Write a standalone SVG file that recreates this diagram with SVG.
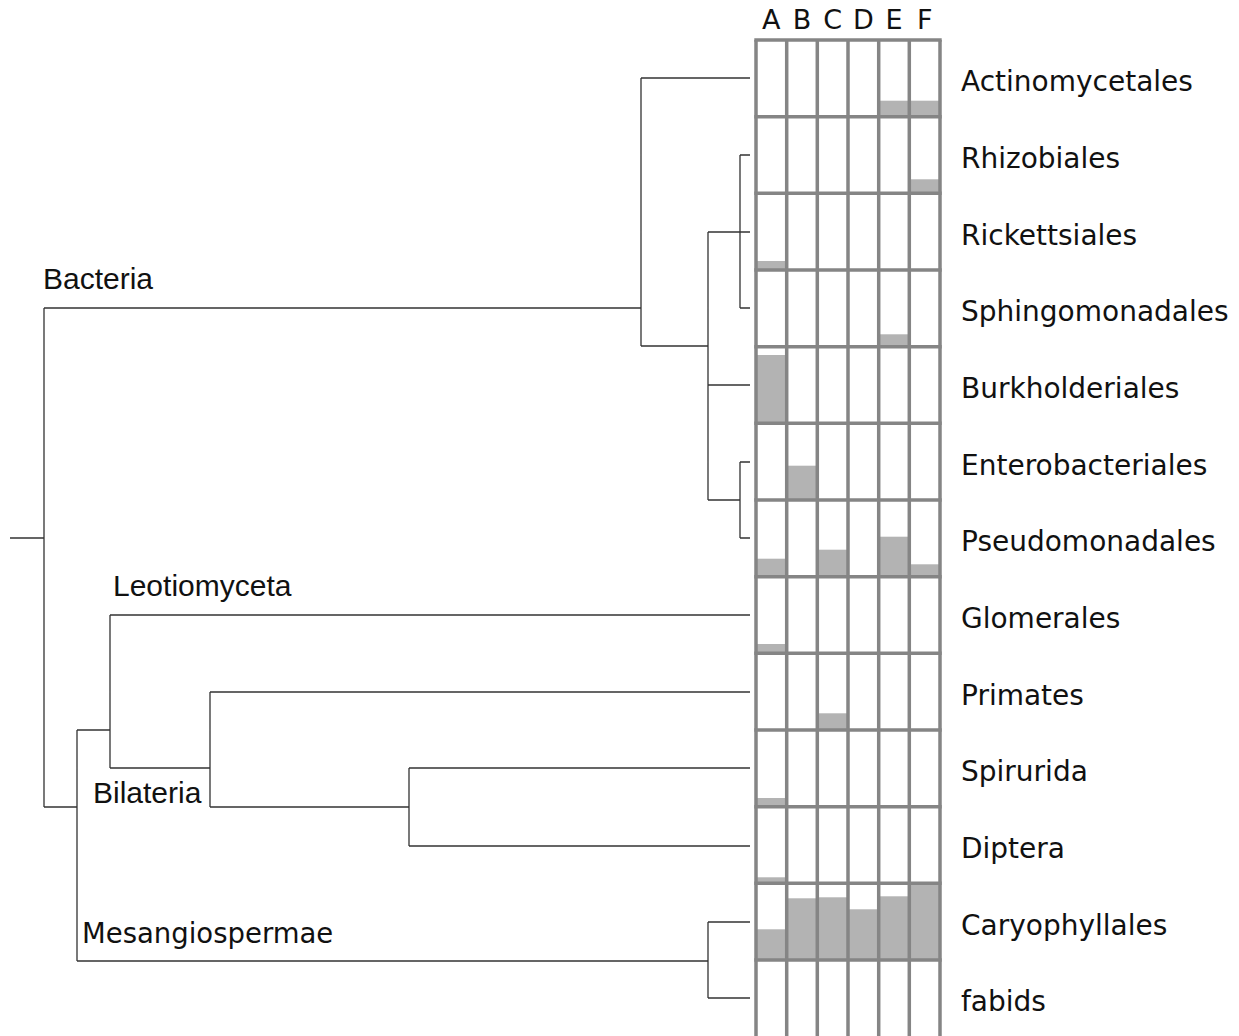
<svg xmlns="http://www.w3.org/2000/svg" width="1239" height="1036" viewBox="0 0 1239 1036">
<style>
.t{fill:none;stroke:#333;stroke-width:1.3}
.g{stroke:#858585;stroke-width:3.5;fill:none}
.b{fill:#b3b3b3}
.lab{font-family:"DejaVu Sans",sans-serif;font-size:28px;fill:#111}
.col{font-family:"DejaVu Sans",sans-serif;font-size:27px;fill:#111;text-anchor:middle}
.cl{font-family:"Liberation Sans",Arial,sans-serif;font-size:30px;fill:#111}
</style>
<rect width="1239" height="1036" fill="#fff"/>
<g id="connectors">
<path class="t" d="M10,538H44M44,308V807M44,308H641M641,78V346M641,78H750M641,346H708M708,232V500M708,232H750M740,155V308M740,155H750M740,308H750M708,385H750M708,500H740M740,462V538M740,462H750M740,538H750"/>
<path class="t" d="M44,807H77M77,730V961M77,730H110M110,615V768M110,615H750M110,768H210M210,692V807M210,692H750M210,807H409M409,768V846M409,768H750M409,846H750M77,961H708M708,922V998M708,922H750M708,998H750"/>
</g>
<g id="bars">
<rect class="b" x="878.7" y="100.7" width="61.3" height="16"/>
<rect class="b" x="909.3" y="179.3" width="30.7" height="14"/>
<rect class="b" x="756" y="261" width="30.7" height="9"/>
<rect class="b" x="878.7" y="334.3" width="30.7" height="12.4"/>
<rect class="b" x="756" y="355" width="30.7" height="68.3"/>
<rect class="b" x="786.7" y="465.7" width="30.7" height="34.3"/>
<rect class="b" x="756" y="558.7" width="30.7" height="18"/>
<rect class="b" x="817.3" y="549.7" width="30.7" height="27"/>
<rect class="b" x="878.7" y="536.7" width="30.7" height="40"/>
<rect class="b" x="909.3" y="564.3" width="30.7" height="12.4"/>
<rect class="b" x="756" y="644" width="30.7" height="9.3"/>
<rect class="b" x="817.3" y="713.3" width="30.7" height="16.7"/>
<rect class="b" x="756" y="798" width="30.7" height="8.7"/>
<rect class="b" x="756" y="877.3" width="30.7" height="6"/>
<rect class="b" x="756" y="929.3" width="30.7" height="30.7"/>
<rect class="b" x="786.7" y="898.3" width="30.7" height="61.7"/>
<rect class="b" x="817.3" y="897.3" width="30.7" height="62.7"/>
<rect class="b" x="848" y="909.3" width="30.7" height="50.7"/>
<rect class="b" x="878.7" y="896.3" width="30.7" height="63.7"/>
<rect class="b" x="909.3" y="883.3" width="30.7" height="76.7"/>
</g>
<g id="grid">
<path class="g" d="M756,40V1040M786.7,40V1040M817.3,40V1040M848,40V1040M878.7,40V1040M909.3,40V1040M940,40V1040"/>
<path class="g" d="M754.3,40H941.7M754.3,116.7H941.7M754.3,193.3H941.7M754.3,270H941.7M754.3,346.7H941.7M754.3,423.3H941.7M754.3,500H941.7M754.3,576.7H941.7M754.3,653.3H941.7M754.3,730H941.7M754.3,806.7H941.7M754.3,883.3H941.7M754.3,960H941.7"/>
</g>
<g id="columns">
<text class="col" x="771.3" y="29">A</text>
<text class="col" x="802" y="29">B</text>
<text class="col" x="832.7" y="29">C</text>
<text class="col" x="863.3" y="29">D</text>
<text class="col" x="894" y="29">E</text>
<text class="col" x="924.7" y="29">F</text>
</g>
<g id="leaves">
<text id="n-actinomycetales" class="lab" x="961" y="91">Actinomycetales</text>
<text id="n-rhizobiales" class="lab" x="961" y="168">Rhizobiales</text>
<text id="n-rickettsiales" class="lab" x="961" y="245">Rickettsiales</text>
<text id="n-sphingomonadales" class="lab" x="961" y="321">Sphingomonadales</text>
<text id="n-burkholderiales" class="lab" x="961" y="398">Burkholderiales</text>
<text id="n-enterobacteriales" class="lab" x="961" y="475">Enterobacteriales</text>
<text id="n-pseudomonadales" class="lab" x="961" y="551">Pseudomonadales</text>
<text id="n-glomerales" class="lab" x="961" y="628">Glomerales</text>
<text id="n-primates" class="lab" x="961" y="705">Primates</text>
<text id="n-spirurida" class="lab" x="961" y="781">Spirurida</text>
<text id="n-diptera" class="lab" x="961" y="858">Diptera</text>
<text id="n-caryophyllales" class="lab" x="961" y="935">Caryophyllales</text>
<text id="n-fabids" class="lab" x="961" y="1011">fabids</text>
</g>
<g id="clades">
<text id="c-bacteria" class="cl" x="43" y="289">Bacteria</text>
<text id="c-leotiomyceta" class="cl" x="113" y="596">Leotiomyceta</text>
<text id="c-bilateria" class="cl" x="93" y="803">Bilateria</text>
<text id="c-mesangiospermae" class="lab" x="82" y="943" style="font-size:27.5px">Mesangiospermae</text>
</g>
</svg>
